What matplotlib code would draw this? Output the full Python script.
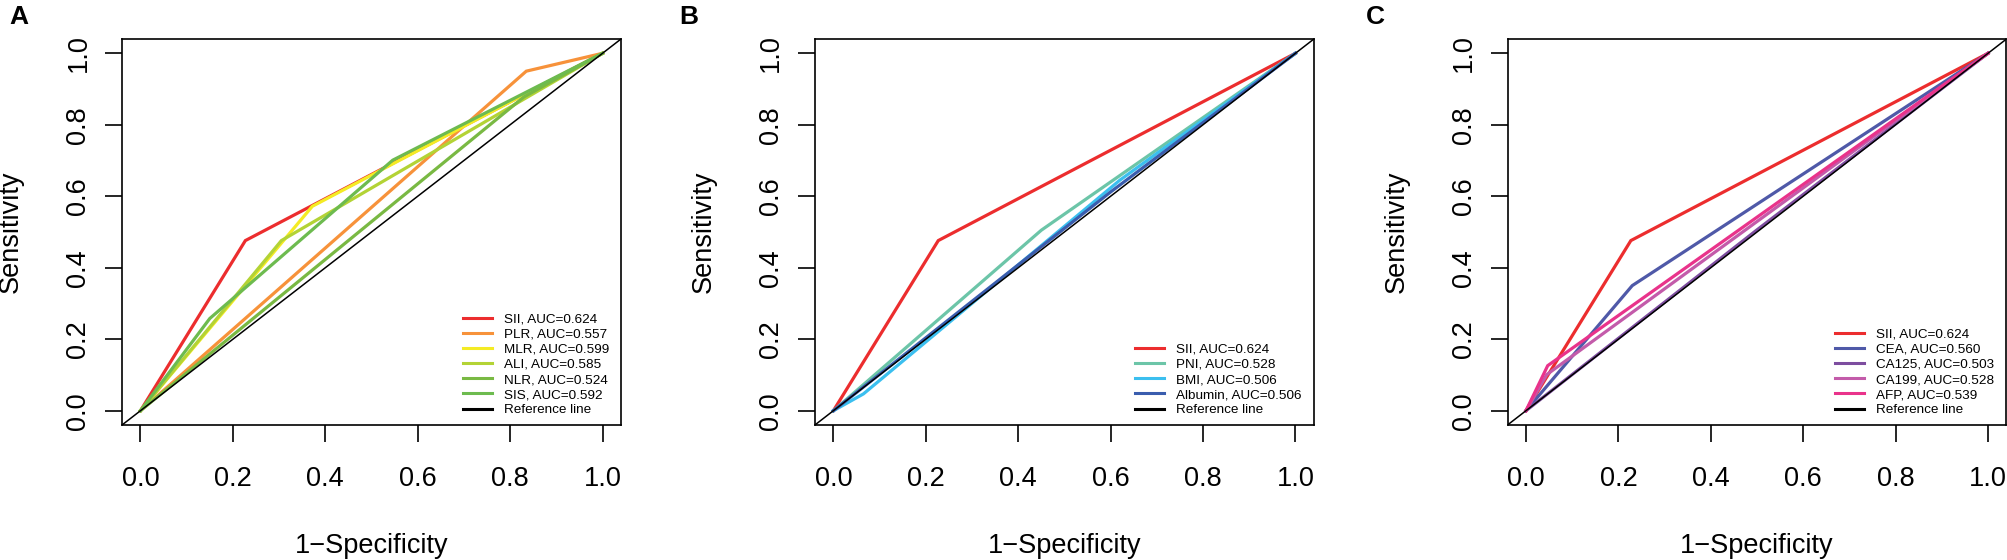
import matplotlib
matplotlib.use("Agg")
import matplotlib.pyplot as plt
from matplotlib.lines import Line2D

plt.rcParams['font.family'] = ['Liberation Sans', 'DejaVu Sans']

# ---------------- data ----------------
# Panel A
a_names = ["SII", "PLR", "MLR", "ALI", "NLR", "SIS"]
a_auc = ["0.624", "0.557", "0.599", "0.585", "0.524", "0.592"]
a_fpr = [[0, 0.227, 1], [0, 0.835, 1], [0, 0.372, 1], [0, 0.305, 1], [0, 0.830, 1], [0, 0.150, 0.546, 1]]
a_tpr = [[0, 0.476, 1], [0, 0.950, 1], [0, 0.572, 1], [0, 0.476, 1], [0, 0.878, 1], [0, 0.258, 0.701, 1]]
a_colors = ["#EC2D2E", "#F7923A", "#F4EB24", "#B3D335", "#79B943", "#6DBB4F"]

# Panel B
b_names = ["SII", "PNI", "BMI", "Albumin"]
b_auc = ["0.624", "0.528", "0.506", "0.506"]
b_fpr = [[0, 0.227, 1], [0, 0.450, 1], [0, 0.065, 0.620, 1], [0, 0.600, 1]]
b_tpr = [[0, 0.476, 1], [0, 0.505, 1], [0, 0.047, 0.645, 1], [0, 0.612, 1]]
b_colors = ["#EC2D2E", "#6CC5A8", "#3BBFEF", "#3A5DAE"]

# Panel C
c_names = ["SII", "CEA", "CA125", "CA199", "AFP"]
c_auc = ["0.624", "0.560", "0.503", "0.528", "0.539"]
c_fpr = [[0, 0.227, 1], [0, 0.230, 1], [0, 0.500, 1], [0, 0.045, 1], [0, 0.047, 1]]
c_tpr = [[0, 0.476, 1], [0, 0.350, 1], [0, 0.506, 1], [0, 0.101, 1], [0, 0.126, 1]]
c_colors = ["#EC2D2E", "#4F59A8", "#7D4D9F", "#C35BAA", "#E9338B"]

panel_letters = ["A", "B", "C"]
ticks = [0.0, 0.2, 0.4, 0.6, 0.8, 1.0]
tick_labels = ["0.0", "0.2", "0.4", "0.6", "0.8", "1.0"]
xlabel = "1\u2212Specificity"
ylabel = "Sensitivity"
ref_label = "Reference line"

panels = [
    (a_names, a_auc, a_fpr, a_tpr, a_colors),
    (b_names, b_auc, b_fpr, b_tpr, b_colors),
    (c_names, c_auc, c_fpr, c_tpr, c_colors),
]

W, H = 2008, 560
fig = plt.figure(figsize=(W / 100, H / 100), dpi=100)

lefts_px = [122.0, 814.9, 1507.5]
ax_w_px = 499.0
top_px, bot_px = 39.0, 425.0
ax_h_px = bot_px - top_px
letter_x_px = [9, 679, 1366]

FS = 19.5
for i, (names, aucs, fprs, tprs, cols) in enumerate(panels):
    ax = fig.add_axes([lefts_px[i] / W, (H - bot_px) / H, ax_w_px / W, ax_h_px / H])
    handles = []
    for nm, au, fx, ty, col in zip(names, aucs, fprs, tprs, cols):
        ax.plot(fx, ty, color=col, lw=2.3, solid_joinstyle='miter', zorder=2)
        handles.append(Line2D([], [], color=col, lw=2.2, label=f"{nm}, AUC={au}"))
    ax.axline((0, 0), (1, 1), color="black", lw=1.1, zorder=3)
    handles.append(Line2D([], [], color="black", lw=2.2, label=ref_label))

    ax.set_xlim(-0.04, 1.04)
    ax.set_ylim(-0.04, 1.04)
    ax.set_xticks(ticks)
    ax.set_xticklabels(tick_labels, fontsize=FS)
    ax.set_yticks(ticks)
    ax.set_yticklabels(tick_labels, fontsize=FS, rotation=90, va='center')
    ax.tick_params(axis='both', direction='out', length=12, width=1.2, color='black')
    ax.tick_params(axis='x', pad=17.5)
    ax.tick_params(axis='y', pad=10)
    for sp in ax.spines.values():
        sp.set_linewidth(1.2)
    ax.set_xlabel(xlabel, fontsize=FS)
    ax.set_ylabel(ylabel, fontsize=FS)
    ax.xaxis.set_label_coords(0.5, -(533 - bot_px) / ax_h_px)
    ax.yaxis.set_label_coords(-0.196, 0.5)

    ax.legend(handles=handles, loc='lower right', bbox_to_anchor=(0.976, 0.0225),
              frameon=False, fontsize=9.7, borderpad=0, borderaxespad=0,
              handlelength=2.15, handletextpad=0.89, labelspacing=0.2)

    fig.text(letter_x_px[i] / W, 1 - 24.4 / H, panel_letters[i], fontsize=19,
             fontweight='bold', ha='left', va='baseline')

fig.savefig("out.png", dpi=100)
